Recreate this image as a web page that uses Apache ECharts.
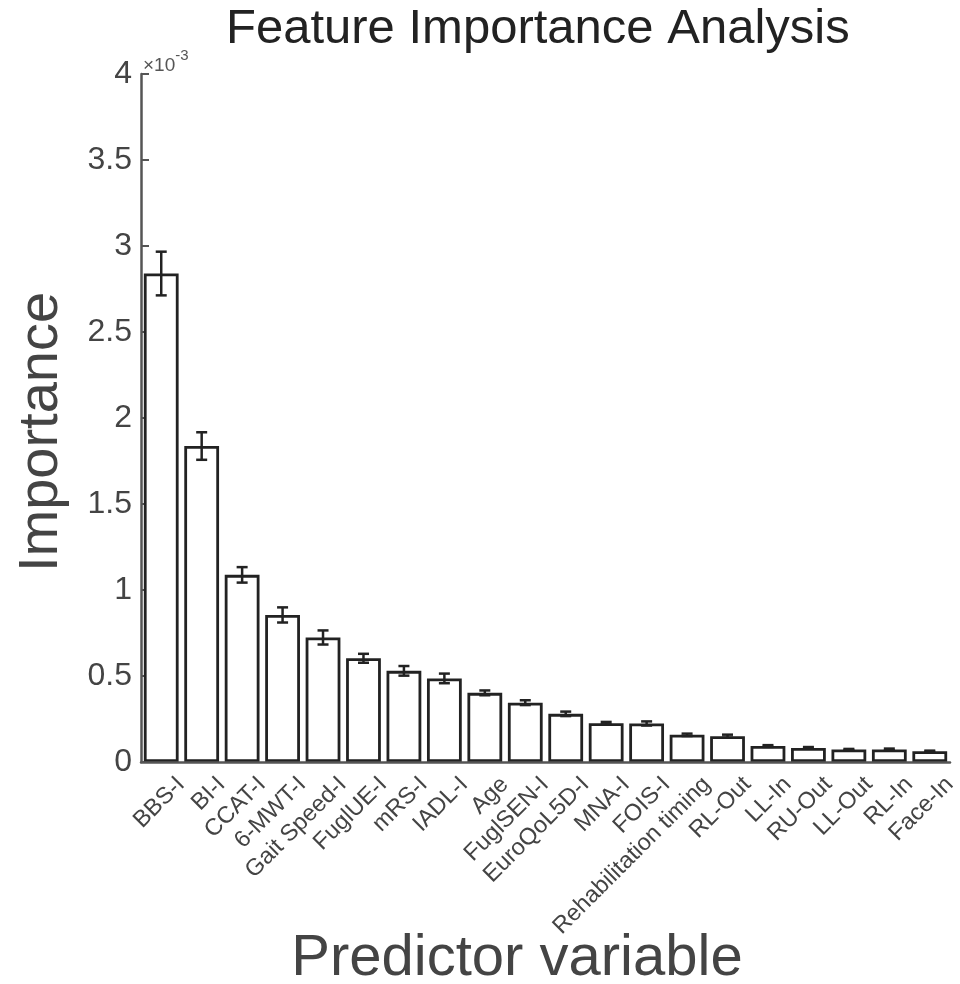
<!DOCTYPE html>
<html>
<head>
<meta charset="utf-8">
<script src="https://cdn.jsdelivr.net/npm/echarts@6/dist/echarts.min.js"></script>
<style>
html,body{margin:0;padding:0;background:#fff;}
#chart{width:960px;height:984px;}
</style>
</head>
<body>
<div id="chart"></div>
<script>
// Data (importance in units of 10^-3)
const categories = ['BBS-I','BI-I','CCAT-I','6-MWT-I','Gait Speed-I','FuglUE-I','mRS-I','IADL-I','Age','FuglSEN-I','EuroQoL5D-I','MNA-I','FOIS-I','Rehabilitation timing','RL-Out','LL-In','RU-Out','LL-Out','RL-In','Face-In'];
const importance = [2.84, 1.837, 1.088, 0.855, 0.724, 0.603, 0.530, 0.486, 0.402, 0.345, 0.280, 0.226, 0.224, 0.158, 0.150, 0.093, 0.082, 0.073, 0.073, 0.063];
const errors = [0.127, 0.080, 0.045, 0.044, 0.041, 0.026, 0.028, 0.028, 0.014, 0.014, 0.013, 0.007, 0.012, 0.007, 0.009, 0.005, 0.005, 0.003, 0.005, 0.003];
const yTicks = [0, 0.5, 1, 1.5, 2, 2.5, 3, 3.5, 4];

const FONT = 'Liberation Sans, Arial, Helvetica, sans-serif';
const chart = echarts.init(document.getElementById('chart'));

const errData = categories.map((c, i) => [i, importance[i] - errors[i], importance[i] + errors[i]]);

chart.setOption({
  animation: false,
  backgroundColor: '#fff',
  grid: { left: 141, right: 10, top: 74, bottom: 222, containLabel: false, outerBoundsMode: 'none' },
  xAxis: {
    type: 'category',
    data: categories,
    z: 5,
    axisLine: { show: true, lineStyle: { color: '#555', width: 2.5 } },
    axisTick: { show: false },
    axisLabel: { rotate: 45, fontSize: 23.5, color: '#444', fontFamily: FONT, margin: -1, interval: 0,
      align: 'right', verticalAlign: 'top', lineHeight: 56, hideOverlap: false }
  },
  yAxis: {
    type: 'value',
    min: yTicks[0],
    max: yTicks[yTicks.length - 1],
    interval: 0.5,
    axisLine: { show: true, lineStyle: { color: '#555', width: 2.5 } },
    axisTick: { show: true, inside: true, length: 8, lineStyle: { color: '#555', width: 2 } },
    splitLine: { show: false },
    axisLabel: { fontSize: 32, color: '#444', fontFamily: FONT, margin: 9,
      formatter: v => String(v) }
  },
  graphic: [
    { type: 'text', left: 226, top: 5, style: { text: 'Feature Importance Analysis', fontSize: 49, fontFamily: FONT, fill: '#222' } },
    { type: 'text', x: 517, y: 959, style: { text: 'Predictor variable', fontSize: 58, fontFamily: FONT, fill: '#444', align: 'center', verticalAlign: 'middle' } },
    { type: 'text', x: 42, y: 432, rotation: Math.PI / 2, style: { text: 'Importance', fontSize: 56, fontFamily: FONT, fill: '#444', align: 'center', verticalAlign: 'middle' } },
    { type: 'text', x: 143, y: 46, style: { text: '{a|\u00d710}{b|-3}', fontFamily: FONT, fill: '#555',
      rich: { a: { fontSize: 19, fill: '#555', fontFamily: FONT, padding: [10,0,0,0] }, b: { fontSize: 15, fill: '#555', fontFamily: FONT, padding: [0,0,10,0] } } } }
  ],
  series: [
    {
      type: 'bar',
      data: importance,
      barWidth: '86%',
      itemStyle: { color: '#fff', borderColor: '#222', borderWidth: 2.8 },
      z: 2
    },
    {
      type: 'custom',
      data: errData,
      z: 3,
      renderItem: function (params, api) {
        const x = api.value(0);
        const lo = api.coord([x, api.value(1)]);
        const hi = api.coord([x, api.value(2)]);
        const hw = 5.5;
        const st = { stroke: '#222', lineWidth: 2.5 };
        return {
          type: 'group',
          children: [
            { type: 'line', shape: { x1: lo[0], y1: lo[1], x2: hi[0], y2: hi[1] }, style: st },
            { type: 'line', shape: { x1: lo[0] - hw, y1: lo[1], x2: lo[0] + hw, y2: lo[1] }, style: st },
            { type: 'line', shape: { x1: hi[0] - hw, y1: hi[1], x2: hi[0] + hw, y2: hi[1] }, style: st }
          ]
        };
      }
    }
  ]
});
</script>
</body>
</html>
